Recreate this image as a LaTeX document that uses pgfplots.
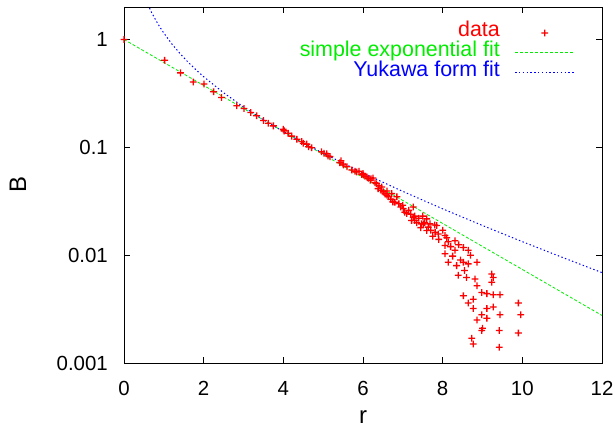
\documentclass[border=0pt]{standalone}
\usepackage{pgfplots}
\pgfplotsset{compat=1.18}
\usepackage{fontspec}
\setmainfont{Liberation Sans}
\definecolor{gpred}{rgb}{1,0,0}
\definecolor{gpgreen}{rgb}{0,0.93,0}
\definecolor{gpblue}{rgb}{0,0,1}
\pgfdeclareplotmark{fplus}{%
  \pgfpathrectangle{\pgfpoint{-\pgfplotmarksize}{-0.65bp}}{\pgfpoint{2\pgfplotmarksize}{1.3bp}}%
  \pgfpathrectangle{\pgfpoint{-0.65bp}{-\pgfplotmarksize}}{\pgfpoint{1.3bp}{2\pgfplotmarksize}}%
  \pgfusepathqfill}
\begin{document}
\begin{tikzpicture}
\useasboundingbox (0,0) rectangle (615bp,429bp);
\begin{axis}[
  at={(124bp,66bp)}, anchor=south west,
  scale only axis, width=478bp, height=356bp,
  xmin=0, xmax=12, ymin=0.001, ymax=2,
  ymode=log,
  log basis y=10,
  xtick={0,2,4,6,8,10,12},
  ytick={0.001,0.01,0.1,1},
  yticklabels={0.001,0.01,0.1,1},
  xticklabels={0,2,4,6,8,10,12},
  tick align=inside,
  major tick length=6bp, minor tick length=3bp,
  tick style={black, line width=0.6bp},
  axis line style={line width=0.8bp},
  /pgf/number format/assume math mode=true,
  tick label style={font=\fontsize{20.5}{24}\selectfont},
  xticklabel style={anchor=north, inner sep=0pt, yshift=-18.5bp},
  yticklabel style={anchor=east, inner sep=0pt, xshift=-16bp},
  xlabel={r}, ylabel={B},
  label style={font=\fontsize{24}{28}\selectfont},
  xlabel style={at={(rel axis cs:0.5,0)}, anchor=center, yshift=-54bp},
  ylabel style={at={(rel axis cs:0,0.5)}, anchor=center, yshift=106bp},
  legend plot pos=right,
  legend cell align=right,
  legend style={draw=none, fill=none, inner sep=0pt, column sep=15bp,
    at={(rel axis cs:0.9435,0.955)}, anchor=north east,
    font=\fontsize{21.5}{24}\selectfont,
    nodes={inner sep=0pt, text height=13.5bp, text depth=6.2bp}},
  legend image code/.code={\draw[mark repeat=2,mark phase=2,#1] plot coordinates {(0bp,0bp) (29.5bp,0bp) (59bp,0bp)};},
  clip=true,
]
\addplot[only marks, mark=fplus, mark size=3.4bp, color=gpred,
  mark options={solid, fill=gpred, draw=none}] coordinates {
(0,1) (1.02,0.641) (1.42,0.49) (1.74,0.403) (2.01,0.387) (2.25,0.328) (2.45,0.29)
(2.83,0.243) (3.01,0.229) (3.18,0.21) (3.33,0.196) (3.50,0.177) (3.62,0.167) (3.75,0.158)
(4.00,0.147) (4.02,0.142) (4.12,0.135) (4.21,0.127) (4.34,0.119) (4.46,0.113) (4.50,0.109)
(4.59,0.107) (4.63,0.101) (4.71,0.099) (4.96,0.091) (5.02,0.088) (5.09,0.087) (5.12,0.083)
(5.17,0.082) (5.42,0.072) (5.45,0.075) (5.51,0.0685) (5.72,0.0617) (5.84,0.059) (5.90,0.060)
(5.97,0.056) (6.01,0.0553) (6.05,0.054) (6.13,0.0516) (6.18,0.0496) (6.25,0.052) (6.34,0.046)
(6.38,0.0414) (6.47,0.0428) (6.51,0.0386) (6.60,0.0393) (6.64,0.0348) (6.72,0.0372) (6.75,0.0312)
(6.85,0.0348) (7.01,0.0271) (7.10,0.0243) (7.22,0.021) (7.26,0.0225) (7.26,0.0279) (7.30,0.021)
(7.47,0.0195) (7.51,0.0195) (7.60,0.0217) (7.60,0.0169) (7.64,0.0182) (7.68,0.0195) (7.81,0.0163)
(7.85,0.0188) (7.89,0.0157) (8.06,0.0152) (8.06,0.0123) (8.06,0.0103) (8.10,0.0145) (8.14,0.0133)
(8.14,0.0086) (8.31,0.0136) (8.31,0.0111) (8.35,0.0080) (8.39,0.0065) (8.52,0.0118) (8.52,0.0086)
(8.52,0.0042) (8.60,0.0062) (8.64,0.0111) (8.64,0.0083) (8.64,0.0036) (8.73,0.0017) (8.77,0.0039)
(8.77,0.0032) (8.77,0.0015) (8.81,0.0060) (8.86,0.0086) (8.86,0.0052) (8.86,0.0025) (8.98,0.0045)
(8.98,0.0028) (8.98,0.0020) (9.00,0.0021) (9.11,0.0044) (9.11,0.0032) (9.11,0.0026) (9.23,0.0067)
(9.23,0.0056) (9.27,0.0043) (9.27,0.0033) (9.42,0.0020) (9.42,0.0014) (9.44,0.0043) (9.44,0.0028)
(9.90,0.0036) (9.96,0.0028) (9.90,0.0019)
(5.50,0.070) (5.60,0.066) (5.80,0.060) (6.00,0.057) (6.10,0.053) (6.20,0.051) (6.30,0.047)
(6.40,0.044) (6.45,0.040) (6.55,0.037) (6.60,0.036) (6.70,0.033) (6.80,0.031) (6.90,0.030)
(6.95,0.028) (7.00,0.029) (7.05,0.025) (7.15,0.026) (7.20,0.024) (7.30,0.023) (7.35,0.020)
(7.40,0.022) (7.45,0.018) (7.50,0.023) (7.55,0.020) (7.70,0.017) (7.75,0.015) (7.80,0.019)
(7.90,0.014) (8.00,0.017) (8.20,0.012) (8.25,0.0098) (8.40,0.0125) (8.45,0.0090) (8.70,0.0100)
(8.55,0.0072) (9.27,0.0062)
};
\addlegendentry[text=gpred]{data}
\addplot[gpgreen, line width=0.8bp, dash pattern=on 3bp off 2bp] coordinates {
(0,1) (12,0.00276)
};
\addlegendentry[text=gpgreen]{simple exponential fit}
\addplot[gpblue, line width=1bp, dash pattern=on 1.4bp off 2.4bp] coordinates {
(0.6,2.1025) (0.7,1.7595) (0.8,1.5033) (0.9,1.3047) (1.0,1.1465) (1.2,0.9108) (1.4,0.7443)
(1.6,0.6208) (1.8,0.5261) (2.0,0.4514) (2.5,0.3204) (3.0,0.2369) (3.5,0.1802) (4.0,0.1399)
(4.5,0.1104) (5.0,0.0881) (6.0,0.0578) (7.0,0.0390) (8.0,0.0269) (9.0,0.01883)
(10.0,0.01334) (11.0,0.00955) (12.0,0.00689)
};
\addlegendentry[text=gpblue]{Yukawa form fit}
\end{axis}
\end{tikzpicture}
\end{document}
